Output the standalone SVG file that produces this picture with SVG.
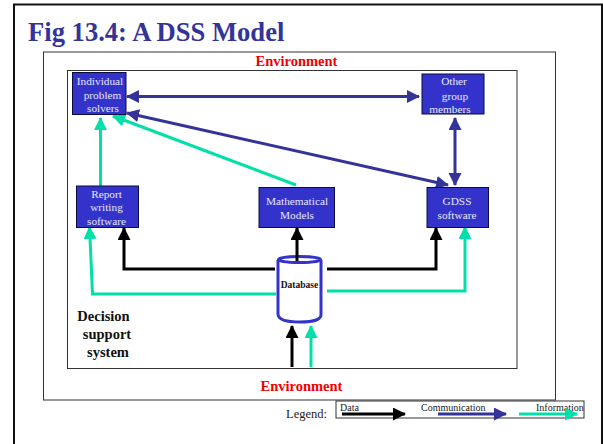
<svg xmlns="http://www.w3.org/2000/svg" width="603" height="444" viewBox="0 0 603 444">
<style>
text{font-family:"Liberation Serif","Times New Roman",serif}
.box{fill:#3333cc;stroke:#0b0b3c;stroke-width:1}
.nt{fill:#e6e6f5;font-size:11.3px;text-anchor:middle}
.frame{fill:none;stroke:#333;stroke-width:1}
.env{fill:#f00000;font-size:14.500px;font-weight:bold;text-anchor:middle}
.dss{fill:#111;font-size:14.500px;font-weight:bold;text-anchor:middle}
.com{fill:none;stroke:#333399;stroke-width:3}
.inf{fill:none;stroke:#00e0a8;stroke-width:3}
.dat{fill:none;stroke:#000;stroke-width:3}
.lg{fill:#222;font-size:10px}
</style>
<defs>
<marker id="mc" markerUnits="userSpaceOnUse" markerWidth="14" markerHeight="14" refX="12" refY="6.500" orient="auto-start-reverse"><path d="M0 0L13 6.500L0 13Z" fill="#333399"/></marker>
<marker id="mi" markerUnits="userSpaceOnUse" markerWidth="14" markerHeight="14" refX="12" refY="6.500" orient="auto"><path d="M0 0L13 6.500L0 13Z" fill="#00e0a8"/></marker>
<marker id="md" markerUnits="userSpaceOnUse" markerWidth="14" markerHeight="14" refX="12" refY="6.500" orient="auto"><path d="M0 0L13 6.500L0 13Z" fill="#000"/></marker>
</defs>
<rect width="603" height="444" fill="#fff"/>
<path d="M14 444V4.500H602V444" fill="none" stroke="#111" stroke-width="2"/>
<text x="28" y="41" font-size="26.600" font-weight="bold" fill="#333399">Fig 13.4: A DSS Model</text>
<rect class="frame" x="43.500" y="52" width="512" height="348"/>
<rect class="frame" x="67.500" y="70.500" width="449.500" height="298"/>
<text class="env" x="296.500" y="66">Environment</text>
<text class="env" x="301.500" y="391">Environment</text>
<g id="database">
<path d="M278 260V314Q278 322 300 322T321 314V260" fill="#fff" stroke="#3333cc" stroke-width="3"/>
<ellipse cx="299.500" cy="259.500" rx="21" ry="3" fill="none" stroke="#3333cc" stroke-width="3"/>
<text x="299.500" y="288" font-size="9.500" font-weight="bold" text-anchor="middle" fill="#111">Database</text>
</g>
<g id="connectors">
<path class="com" d="M127 96.500H419" marker-start="url(#mc)" marker-end="url(#mc)"/>
<path class="com" d="M127 113L448 185" marker-start="url(#mc)" marker-end="url(#mc)"/>
<path class="com" d="M455 118V185" marker-start="url(#mc)" marker-end="url(#mc)"/>
<path class="inf" d="M100.500 186V118" marker-end="url(#mi)"/>
<path class="inf" d="M296 185L113 116" marker-end="url(#mi)"/>
<path class="inf" d="M276 294H92.500L89.500 227" marker-end="url(#mi)"/>
<path class="inf" d="M327 291H465V227" marker-end="url(#mi)"/>
<path class="dat" d="M275 269H124V228" marker-end="url(#md)"/>
<path class="dat" d="M327 269H436V228" marker-end="url(#md)"/>
<path class="dat" d="M297 261V228" marker-end="url(#md)"/>
<path class="dat" d="M292 367V326" marker-end="url(#md)"/>
<path class="inf" d="M311 367V326" marker-end="url(#mi)"/>
</g>
<g id="individual"><rect class="box" x="72.500" y="72.500" width="53.500" height="42"/><text class="nt" x="100" y="85">Individual</text><text class="nt" x="102.500" y="99">problem</text><text class="nt" x="103" y="112">solvers</text></g>
<g id="other"><rect class="box" x="422" y="74" width="62" height="40"/><text class="nt" x="454" y="85">Other</text><text class="nt" x="455" y="100">group</text><text class="nt" x="450" y="113">members</text></g>
<g id="report"><rect class="box" x="76.500" y="186" width="62" height="41.500"/><text class="nt" x="106.500" y="198">Report</text><text class="nt" x="106.500" y="211">writing</text><text class="nt" x="106.500" y="225">software</text></g>
<g id="math"><rect class="box" x="259" y="187.500" width="75.500" height="40"/><text class="nt" x="297" y="205">Mathematical</text><text class="nt" x="297" y="219">Models</text></g>
<g id="gdss"><rect class="box" x="427" y="187.500" width="61.500" height="40"/><text class="nt" x="457" y="205">GDSS</text><text class="nt" x="457" y="219">software</text></g>
<g id="dss-label"><text class="dss" x="103.500" y="321">Decision</text><text class="dss" x="107" y="339">support</text><text class="dss" x="108" y="357">system</text></g>
<g id="legend">
<text x="286" y="418" font-size="12.500" fill="#222">Legend:</text>
<rect x="336" y="401" width="248" height="17" fill="#fff" stroke="#333" stroke-width="1"/>
<text class="lg" x="340" y="411">Data</text><text class="lg" x="421" y="411">Communication</text><text class="lg" x="536" y="411">Information</text>
<path class="dat" d="M342 414H405" marker-end="url(#md)"/>
<path class="com" d="M438 414H506" marker-end="url(#mc)"/>
<path class="inf" d="M519 414H577" marker-end="url(#mi)"/>
</g>
</svg>
